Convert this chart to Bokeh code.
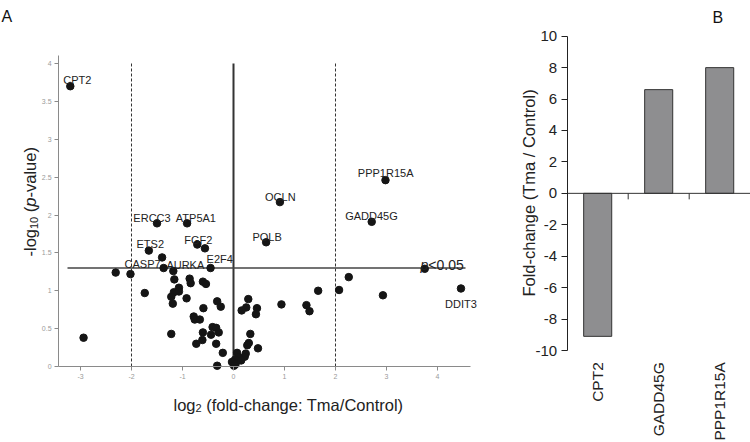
import math
from bokeh.plotting import figure
from bokeh.layouts import row
from bokeh.models import Range1d, FixedTicker, Label, LinearAxis, ColumnDataSource
from bokeh.embed import file_html
from bokeh.resources import INLINE
from bokeh.core.properties import value

# ---------------- data: panel A (volcano plot) ----------------
other_fc = [-2.31, -2.02, -1.74, -2.94,
            -1.18, -1.16, -0.86, -0.84, -0.60, -0.54,
            -1.07, -1.17, -1.07, -1.22, -1.19, -0.92,
            -0.32, -0.25, -0.59, -0.78, -0.76, -0.66,
            -1.22, -0.60, -0.41, -0.34, -0.29, -0.44,
            -0.61, -0.73, -0.34, -0.21, -0.32,
            0.29, 0.25, 0.16, 0.46, 0.44, 0.94,
            0.33, 0.30, 0.27, 0.48, 0.24, 0.22,
            0.07, 0.10, 0.03, -0.03, 0.04, 0.15, 0.01,
            1.43, 1.49, 1.66, 2.07, 2.26, 2.93,
            -0.56, 3.75]
other_nlp = [1.24, 1.22, 0.97, 0.38,
             1.26, 1.15, 1.16, 1.10, 1.12, 1.09,
             1.04, 0.98, 0.99, 0.92, 0.83, 0.90,
             0.86, 0.79, 0.77, 0.66, 0.62, 0.62,
             0.43, 0.45, 0.52, 0.51, 0.45, 0.42,
             0.35, 0.30, 0.30, 0.18, 0.01,
             0.89, 0.78, 0.74, 0.77, 0.69, 0.82,
             0.43, 0.31, 0.28, 0.24, 0.17, 0.13,
             0.18, 0.12, 0.09, 0.06, 0.03, 0.08, 0.01,
             0.81, 0.73, 1.00, 1.01, 1.18, 0.94,
             1.56, 1.29]

gene_names = ["CPT2", "ERCC3", "ATP5A1", "ETS2", "FGF2", "CASP7", "AURKA",
              "E2F4", "OCLN", "POLB", "PPP1R15A", "GADD45G", "DDIT3"]
gene_fc = [-3.20, -1.50, -0.91, -1.66, -0.71, -1.40, -1.37,
           -0.45, 0.91, 0.64, 2.98, 2.71, 4.46]
gene_nlp = [3.70, 1.89, 1.89, 1.53, 1.61, 1.44, 1.30,
            1.30, 2.17, 1.64, 2.46, 1.91, 1.03]

x_ticks = [-3, -2, -1, 0, 1, 2, 3, 4]
x_tick_labels = ["-3", "-2", "-1", "0", "1", "2", "3", "4"]
y_ticks = [0, 0.5, 1, 1.5, 2, 2.5, 3, 3.5, 4]
y_tick_labels = ["0", "0.5", "1", "1.5", "2", "2.5", "3", "3.5", "4"]
x_axis_span = (-3.43, 4.65)
y_axis_span = (0, 4.1)

fc_cutoff = 2
p_cutoff = 0.05

# ---------------- data: panel B (bar chart) ----------------
bar_genes = ["CPT2", "GADD45G", "PPP1R15A"]
bar_fold = [-9.1, 6.6, 8.0]
b_ticks = [-10, -8, -6, -4, -2, 0, 2, 4, 6, 8, 10]

# ---------------- layout / styling ----------------
FONT = "Liberation Sans"
H = 442
W1 = 500
W2 = 750 - W1

# panel A: pixel geometry (canvas px)
A_X0PX, A_XU = 233.0, 51.0      # px of x=0, px per unit
A_Y0PX, A_YU = 366.0, 75.75     # px of y=0, px per unit


def ax_(px):
    return (px - A_X0PX) / A_XU


def ay_(py):
    return (A_Y0PX - py) / A_YU


p1 = figure(width=W1, height=H,
            x_range=Range1d(ax_(0), ax_(W1)), y_range=Range1d(ay_(H), ay_(0)),
            output_backend="svg", toolbar_location=None,
            x_axis_location=None, y_axis_location=None,
            min_border=0)
p1.grid.visible = False
p1.outline_line_color = None


def style_small_axis(axis, ticks, labels):
    axis.ticker = FixedTicker(ticks=ticks)
    axis.major_label_overrides = {t: l for t, l in zip(ticks, labels)}
    axis.axis_line_color = "#8a8a8a"
    axis.major_tick_line_color = "#8a8a8a"
    axis.major_tick_out = 4
    axis.major_tick_in = 0
    axis.minor_tick_line_color = None
    axis.major_label_text_font_size = "7px"
    axis.major_label_text_color = "#9a9a9a"
    axis.major_label_text_font = FONT
    axis.major_label_standoff = 3


xa1 = LinearAxis(fixed_location=y_axis_span[0], bounds=x_axis_span)
style_small_axis(xa1, x_ticks, x_tick_labels)
p1.add_layout(xa1, "below")
ya1 = LinearAxis(fixed_location=x_axis_span[0], bounds=y_axis_span)
style_small_axis(ya1, y_ticks, y_tick_labels)
p1.add_layout(ya1, "left")

nlp_cut = -math.log10(p_cutoff)
top_line = y_ticks[-1]

# reference lines
p1.segment(x0=[-fc_cutoff, fc_cutoff], y0=[0, 0], x1=[-fc_cutoff, fc_cutoff], y1=[top_line, top_line],
           line_color="#333333", line_width=1, line_dash="3 2")
p1.segment(x0=[0], y0=[0], x1=[0], y1=[top_line], line_color="#333333", line_width=2)
p1.segment(x0=[ax_(67)], y0=[nlp_cut], x1=[ax_(465)], y1=[nlp_cut], line_color="#444444", line_width=1.5)

# points
p1.scatter(other_fc, other_nlp, size=7.5, color="#151515")
p1.scatter(gene_fc, gene_nlp, size=7.5, color="#151515")

# gene labels (offsets in px; y offset positive = down)
lab_dx = [7, -5, 8.8, 1.4, 1.1, -19.5, 21.7, 9.2, 0.4, 1, 0.2, -0.2, 0]
lab_dy = [-6, -5.7, -5.7, -6.7, -5, 6.6, -3, -9.4, -5, -5.7, -6.7, -6, 15.6]
lsrc = ColumnDataSource(dict(x=gene_fc, y=gene_nlp, t=gene_names, dx=lab_dx, dy=lab_dy))
p1.text(x="x", y="y", text="t", x_offset="dx", y_offset="dy", source=lsrc,
        text_font=value(FONT), text_font_size="11px", text_color="#222222",
        text_align="center", text_baseline="alphabetic")


def add_label(p, x, y, text, size, style="normal", angle=0.0, color="#222222",
              align="left", baseline="alphabetic"):
    p.add_layout(Label(x=x, y=y, text=text, text_font=FONT, text_font_size=size,
                       text_font_style=style, angle=angle, text_color=color,
                       text_align=align, text_baseline=baseline))


# p<0.05
add_label(p1, ax_(420), ay_(264), "p", "14px", "italic")
add_label(p1, ax_(427.8), ay_(264), "<0.05", "14px")

# x axis title: log2 (fold-change: Tma/Control)
add_label(p1, ax_(173), ay_(404), "log", "16.5px")
add_label(p1, ax_(195), ay_(407.5), "2", "11px")
add_label(p1, ax_(205.7), ay_(404), "(fold-change: Tma/Control)", "16.5px")

# y axis title: -log10 (p-value)
R = math.pi / 2
add_label(p1, ax_(29), ay_(256), "-log", "16.5px", angle=R)
add_label(p1, ax_(33), ay_(228.5), "10", "11px", angle=R)
add_label(p1, ax_(29), ay_(211.7), "(", "16.5px", angle=R)
add_label(p1, ax_(29), ay_(206.2), "p", "16.5px", "italic", angle=R)
add_label(p1, ax_(29), ay_(197.0), "-value)", "16.5px", angle=R)

# panel letter
add_label(p1, ax_(1), ay_(16), "A", "16px", color="#111111")

# ---------------- panel B ----------------
B_X0PX, B_XU = 566.7 - W1, 61.0     # canvas px of x=0 (within p2), px per category
B_Y0PX, B_YU = 192.85, 15.715       # px of y=0, px per unit


def bx_(px):  # page px -> data x
    return (px - W1 - B_X0PX) / B_XU


def by_(py):
    return (B_Y0PX - py) / B_YU


p2 = figure(width=W2, height=H,
            x_range=Range1d(bx_(W1), bx_(W1 + W2)), y_range=Range1d(by_(H), by_(0)),
            output_backend="svg", toolbar_location=None,
            x_axis_location=None, y_axis_location=None,
            min_border=0)
p2.grid.visible = False
p2.outline_line_color = None

n_cat = len(bar_genes)
bar_x = [i + 0.5 for i in range(n_cat)]
p2.vbar(x=bar_x, top=bar_fold, bottom=0, width=0.46,
        fill_color="#8e8e90", line_color="#333333", line_width=1)

ya2 = LinearAxis(fixed_location=0, bounds=(b_ticks[0], b_ticks[-1]),
                 ticker=FixedTicker(ticks=b_ticks))
ya2.major_label_overrides = {t: str(t) for t in b_ticks}
ya2.axis_line_color = "#222222"
ya2.major_tick_line_color = "#222222"
ya2.major_tick_out = 6
ya2.major_tick_in = 0
ya2.minor_tick_line_color = None
ya2.major_label_text_font = FONT
ya2.major_label_text_font_size = "15px"
ya2.major_label_text_color = "#222222"
ya2.major_label_standoff = 4
p2.add_layout(ya2, "left")

# zero line with category-boundary ticks
bounds_x = list(range(1, n_cat))
p2.segment(x0=[0], y0=[0], x1=[n_cat], y1=[0], line_color="#333333", line_width=1)
p2.segment(x0=bounds_x, y0=[0] * len(bounds_x), x1=bounds_x,
           y1=[by_(B_Y0PX + 6)] * len(bounds_x), line_color="#333333", line_width=1)

# category labels (vertical, reading bottom to top)
csrc = ColumnDataSource(dict(x=bar_x, y=[by_(361.7)] * n_cat, t=bar_genes))
p2.text(x="x", y="y", text="t", source=csrc, angle=R,
        text_font=value(FONT), text_font_size="15.5px", text_color="#222222",
        text_align="right", text_baseline="middle")

# y axis title
add_label(p2, bx_(528), by_(192.5), "Fold-change (Tma / Control)", "16.5px",
          angle=R, align="center")

add_label(p2, bx_(712), by_(17), "B", "16px", color="#111111")

layout = row(p1, p2)
open("out.html", "w").write(file_html(layout, INLINE))
